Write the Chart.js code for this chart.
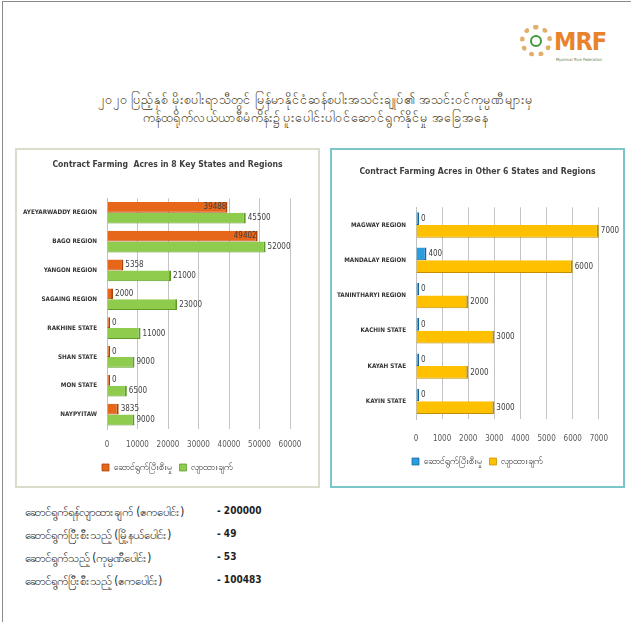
<!DOCTYPE html>
<html>
<head>
<meta charset="utf-8">
<script src="https://cdn.jsdelivr.net/npm/chart.js@4/dist/chart.umd.min.js"></script>
<style>
  html, body { margin: 0; padding: 0; background: #fff; }
  body { width: 631px; height: 622px; position: relative; overflow: hidden; font-family: "DejaVu Sans Condensed", sans-serif; }
  .frame { position: absolute; left: 2px; top: 1px; width: 660px; height: 660px; border: 1px solid #8a8a8a; }
  .logo { position: absolute; left: 520px; top: 24px; width: 95px; height: 42px; }
  .gear { position: absolute; left: 0; top: 1px; width: 32px; height: 32px; border-radius: 50%; border: 5px dotted #e2ae68; box-sizing: border-box; }
  .gear-in { position: absolute; left: 5px; top: 5px; width: 12px; height: 12px; border-radius: 50%; border: 2px solid #3f9a3a; box-sizing: border-box; background: #fff; }
  .mrf { position: absolute; left: 34px; top: 3px; font: bold 25px "DejaVu Sans Condensed", sans-serif; color: #e8832b; letter-spacing: -1px; }
  .mrf-sub { position: absolute; left: 36px; top: 33px; font-size: 4px; color: #6a7a40; white-space: nowrap; }
  .title { position: absolute; left: 0; width: 631px; text-align: center; color: #463812; font-size: 12.5px; white-space: nowrap; }
  .panel { position: absolute; top: 148px; height: 340px; box-sizing: border-box; border: 2px solid; }
  .panel .wrap { position: absolute; left: 0; top: 0; right: 0; bottom: 0; }
  #leftPanel { left: 15px; width: 305px; border-color: #dcdcca; }
  #rightPanel { left: 330px; width: 295px; border-color: #7cc6cb; }
  .stat { position: absolute; left: 25px; font-size: 11.5px; color: #1e1e1e; white-space: nowrap; }
  .stat span { position: absolute; left: 192px; font-weight: bold; font-size: 10px; }
</style>
</head>
<body>
<div class="frame"></div>

<div class="logo">
  <div class="gear"><div class="gear-in"></div></div>
  <div class="mrf">MRF</div>
  <div class="mrf-sub">Myanmar Rice Federation</div>
</div>

<div class="title" style="top: 92px;">၂၀၂၀ ပြည့်နှစ် မိုးစပါးရာသီတွင် မြန်မာနိုင်ငံဆန်စပါးအသင်းချုပ်၏ အသင်းဝင်ကုမ္ပဏီများမှ</div>
<div class="title" style="top: 110px;">ကန်ထရိုက်လယ်ယာစီမံကိန်း၌ ပူးပေါင်းပါဝင်ဆောင်ရွက်နိုင်မှု အခြေအနေ</div>

<div class="panel" id="leftPanel"><div class="wrap"><canvas id="leftChart"></canvas></div></div>
<div class="panel" id="rightPanel"><div class="wrap"><canvas id="rightChart"></canvas></div></div>

<div id="stats"></div>

<script>
const KEY_REGIONS = [
  "AYEYARWADDY REGION",
  "BAGO REGION",
  "YANGON REGION",
  "SAGAING REGION",
  "RAKHINE STATE",
  "SHAN STATE",
  "MON STATE",
  "NAYPYITAW",
]
const KEY_DONE = [39488, 49402, 5358, 2000, 0, 0, 0, 3835]
const KEY_TARGET = [45500, 52000, 21000, 23000, 11000, 9000, 6500, 9000]

const OTHER_REGIONS = [
  "MAGWAY REGION",
  "MANDALAY REGION",
  "TANINTHARYI REGION",
  "KACHIN STATE",
  "KAYAH STAE",
  "KAYIN STATE",
]
const OTHER_DONE = [0, 400, 0, 0, 0, 0]
const OTHER_TARGET = [7000, 6000, 2000, 3000, 2000, 3000]

const DONE_LABEL = "ဆောင်ရွက်ပြီးစီးမှု"
const TARGET_LABEL = "လျာထားချက်"

const STAT_LABELS = [
  "ဆောင်ရွက်ရန်လျာထားချက် (ဧကပေါင်း)",
  "ဆောင်ရွက်ပြီးစီးသည့် (မြို့နယ်ပေါင်း)",
  "ဆောင်ရွက်သည့် (ကုမ္ပဏီပေါင်း)",
  "ဆောင်ရွက်ပြီးစီးသည့် (ဧကပေါင်း)",
]
const STAT_VALUES = ["- 200000", "- 49", "-  53", "- 100483"]

const FONT = "'DejaVu Sans Condensed', sans-serif"

// value labels next to the bars, long "done" bars get the label inside the end
const barLabels = {
  id: "barLabels",
  afterDatasetsDraw(chart) {
    const { ctx } = chart
    const max = chart.scales.x.max
    ctx.save()
    ctx.font = `8px ${FONT}`
    ctx.fillStyle = "#404040"
    ctx.textBaseline = "middle"
    chart.data.datasets.forEach((ds, i) => {
      chart.getDatasetMeta(i).data.forEach((bar, j) => {
        const v = ds.data[j]
        if (i === 0 && v > max * 0.5) {
          ctx.textAlign = "right"
          ctx.fillText(String(v), bar.x - 1, bar.y)
        } else {
          ctx.textAlign = "left"
          ctx.fillText(String(v), bar.x + 2, bar.y)
        }
      })
    })
    ctx.restore()
  },
}

// title and legend centred on the whole panel, not on the padded area
const centerBlocks = {
  id: "centerBlocks",
  afterLayout(chart) {
    ;[chart.titleBlock, chart.legend].forEach((box) => {
      if (!box) return
      box.left = 0
      box.right = chart.width
      box.width = chart.width
    })
  },
}

const makeChart = (el, cfg) =>
  new Chart(el, {
    type: "bar",
    data: {
      labels: cfg.labels,
      datasets: [
        {
          label: DONE_LABEL,
          data: cfg.done,
          backgroundColor: cfg.doneColor,
          borderColor: cfg.doneEdge,
          borderWidth: { top: 0, left: 0, right: 2, bottom: 1 },
          borderSkipped: false,
          minBarLength: 3,
          barPercentage: 1,
          categoryPercentage: cfg.catPct,
        },
        {
          label: TARGET_LABEL,
          data: cfg.target,
          backgroundColor: cfg.targetColor,
          borderColor: cfg.targetEdge,
          borderWidth: { top: 0, left: 0, right: 2, bottom: 1 },
          borderSkipped: false,
          barPercentage: 1,
          categoryPercentage: cfg.catPct,
        },
      ],
    },
    options: {
      indexAxis: "y",
      animation: false,
      responsive: true,
      maintainAspectRatio: false,
      layout: { padding: { left: 0, right: cfg.padRight, top: 0, bottom: cfg.padBottom } },
      plugins: {
        title: {
          display: true,
          text: cfg.title,
          color: "#404040",
          font: { family: FONT, size: 8.6, weight: "bold" },
          padding: { top: cfg.titleTop, bottom: cfg.titleBottom },
        },
        legend: {
          position: "bottom",
          labels: {
            boxWidth: 7,
            boxHeight: 7,
            padding: 8,
            color: "#404040",
            font: { family: FONT, size: 9 },
          },
        },
        tooltip: { enabled: false },
      },
      scales: {
        x: {
          min: 0,
          max: cfg.max,
          ticks: {
            stepSize: cfg.step,
            padding: cfg.tickPad,
            maxRotation: 0,
            minRotation: 0,
            autoSkip: false,
            color: "#595959",
            font: { family: FONT, size: 8 },
            callback: (value) => String(value),
          },
          grid: { color: "#c4c4c4", drawTicks: false },
          border: { display: false },
          afterFit: (scale) => {
            scale.height = cfg.xHeight
          },
        },
        y: {
          ticks: {
            padding: cfg.yPad,
            color: "#333",
            font: { family: FONT, size: 6.3, weight: "bold" },
          },
          grid: { display: false, drawTicks: false },
          border: { color: "#c0c0c0" },
          afterFit: (scale) => {
            scale.width = cfg.yWidth
          },
        },
      },
    },
    plugins: [barLabels, centerBlocks],
  })

makeChart(document.getElementById("leftChart"), {
  title: "Contract Farming  Acres in 8 Key States and Regions",
  labels: KEY_REGIONS,
  done: KEY_DONE,
  target: KEY_TARGET,
  doneColor: "#e6661a",
  doneEdge: "#a8420a",
  targetColor: "#8fcc4e",
  targetEdge: "#5e9a2a",
  catPct: 0.75,
  max: 60000,
  step: 10000,
  padRight: 28,
  yWidth: 90,
  yPad: 10,
  padBottom: 4,
  titleTop: 10,
  titleBottom: 28,
  tickPad: 11,
  xHeight: 26,
})

makeChart(document.getElementById("rightChart"), {
  title: "Contract Farming Acres in Other 6 States and Regions",
  labels: OTHER_REGIONS,
  done: OTHER_DONE,
  target: OTHER_TARGET,
  doneColor: "#2a9ee0",
  doneEdge: "#16649a",
  targetColor: "#ffc000",
  targetEdge: "#c08f00",
  catPct: 0.72,
  max: 7000,
  step: 1000,
  padRight: 24,
  yWidth: 84,
  yPad: 10,
  padBottom: 10,
  titleTop: 17,
  titleBottom: 30,
  tickPad: 15,
  xHeight: 30,
})

const stats = document.getElementById("stats")
STAT_LABELS.forEach((label, i) => {
  const row = document.createElement("div")
  row.className = "stat"
  row.style.top = `${505 + i * 23}px`
  row.textContent = label
  const val = document.createElement("span")
  val.textContent = STAT_VALUES[i]
  row.appendChild(val)
  stats.appendChild(row)
})
</script>
</body>
</html>
